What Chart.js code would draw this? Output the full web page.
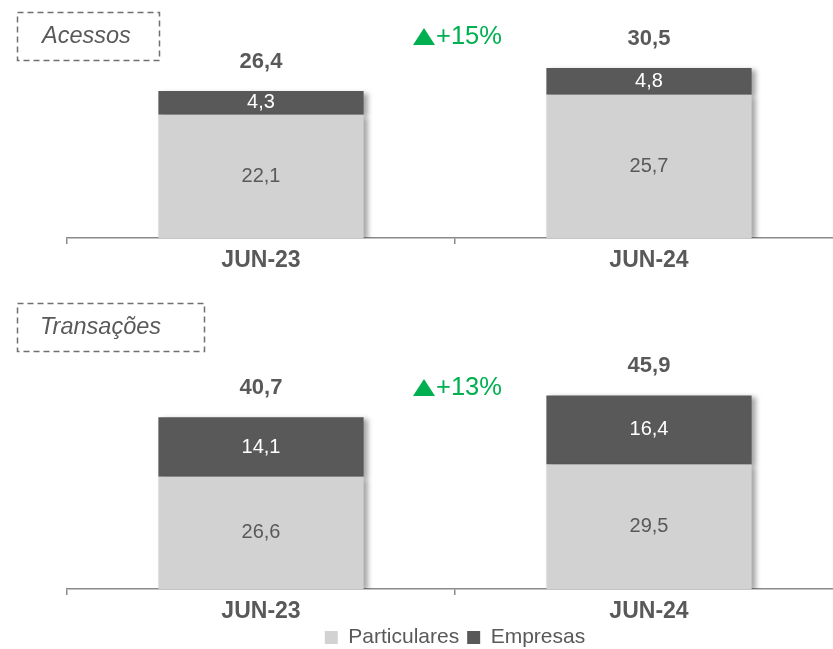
<!DOCTYPE html>
<html>
<head>
<meta charset="utf-8">
<script src="https://cdn.jsdelivr.net/npm/chart.js@4.4.0/dist/chart.umd.min.js"></script>
<style>
html, body { margin: 0; padding: 0; background: #fff; overflow: hidden; width: 833px; height: 649px; }
#wrap { position: relative; width: 833px; height: 649px; overflow: hidden; }
canvas { position: absolute; left: 0; }
#c1 { top: 0; }
#c2 { top: 290px; }
</style>
</head>
<body>
<div id="wrap">
<canvas id="c1" width="850" height="290"></canvas>
<canvas id="c2" width="850" height="380"></canvas>
</div>
<script>
// dados
var categorias = ['JUN-23', 'JUN-24'];
var series = ['Particulares', 'Empresas'];
var acessosParticulares = [22.1, 25.7];
var acessosEmpresas = [4.3, 4.8];
var acessosTotal = [26.4, 30.5];
var transacoesParticulares = [26.6, 29.5];
var transacoesEmpresas = [14.1, 16.4];
var transacoesTotal = [40.7, 45.9];
var variacao = ['+15%', '+13%'];
var titulos = ['Acessos', 'Transações'];

var corClaro = '#d2d2d2';
var corEscuro = '#595959';
var corTexto = '#595959';
var corEixo = '#8a8a8a';
var fonte = "'Liberation Sans', Arial, sans-serif";

function fmt(v) {
    return v.toFixed(1).replace('.', ',');
}

// sombra das barras
var sombra = {
    id: 'sombra',
    beforeDatasetsDraw: function(chart) {
        var ctx = chart.ctx;
        ctx.save();
        ctx.shadowColor = 'rgba(0,0,0,0.35)';
        ctx.shadowBlur = 5;
        ctx.shadowOffsetX = 4;
        ctx.shadowOffsetY = 2;
    },
    afterDatasetsDraw: function(chart) {
        chart.ctx.restore();
    }
};

// valores, totais, variacao e caixa do titulo
var rotulos = {
    id: 'rotulos',
    afterDatasetsDraw: function(chart, args, opts) {
        var ctx = chart.ctx;
        var area = chart.chartArea;
        ctx.save();
        ctx.textAlign = 'center';
        ctx.textBaseline = 'middle';

        chart.data.datasets.forEach(function(ds, i) {
            var meta = chart.getDatasetMeta(i);
            meta.data.forEach(function(bar, j) {
                ctx.font = '20px ' + fonte;
                ctx.fillStyle = i === 0 ? corTexto : '#ffffff';
                ctx.fillText(fmt(ds.data[j]), bar.x, (bar.y + bar.base) / 2);
            });
        });

        var topo = chart.getDatasetMeta(chart.data.datasets.length - 1);
        ctx.font = 'bold 22px ' + fonte;
        ctx.fillStyle = corTexto;
        topo.data.forEach(function(bar, j) {
            ctx.fillText(fmt(opts.totais[j]), bar.x, bar.y - 29);
        });

        // variacao entre os dois periodos (triangulo + texto)
        var xm = (topo.data[0].x + topo.data[1].x) / 2;
        var ym = area.bottom - 201;
        ctx.fillStyle = '#00b050';
        ctx.beginPath();
        ctx.moveTo(xm - 42, ym + 8);
        ctx.lineTo(xm - 20, ym + 8);
        ctx.lineTo(xm - 31, ym - 9);
        ctx.closePath();
        ctx.fill();
        ctx.textAlign = 'left';
        ctx.font = '25.5px ' + fonte;
        ctx.fillText(opts.variacao, xm - 19, ym);

        // titulo com caixa tracejada
        var c = opts.caixa;
        ctx.setLineDash([6, 4]);
        ctx.lineWidth = 1.5;
        ctx.strokeStyle = '#707070';
        ctx.strokeRect(c.x, c.y, c.w, c.h);
        ctx.setLineDash([]);
        ctx.font = 'italic 23.5px ' + fonte;
        ctx.fillStyle = corTexto;
        ctx.fillText(opts.titulo, c.tx, c.y + c.h / 2);
        ctx.restore();
    }
};

function criarGrafico(id, particulares, empresas, totais, o) {
    return new Chart(document.getElementById(id), {
        type: 'bar',
        data: {
            labels: categorias,
            datasets: [
                { label: series[0], data: particulares, backgroundColor: corClaro, barPercentage: 0.529, categoryPercentage: 1 },
                { label: series[1], data: empresas, backgroundColor: corEscuro, barPercentage: 0.529, categoryPercentage: 1 }
            ]
        },
        options: {
            responsive: false,
            animation: false,
            layout: { padding: { left: 67, right: 7, top: o.topo, bottom: o.baixo } },
            scales: {
                x: {
                    stacked: true,
                    grid: { display: true, drawOnChartArea: false, drawTicks: true, tickLength: 6, color: corEixo, lineWidth: 1.5, offset: true },
                    border: { display: true, color: corEixo, width: 1.5 },
                    ticks: { color: corTexto, padding: 3, font: { family: fonte, size: 23, weight: 'bold' } },
                    afterFit: function(s) { s.height = o.alturaEixo; }
                },
                y: { stacked: true, display: false, min: 0, max: o.max }
            },
            plugins: {
                legend: {
                    display: o.legenda,
                    position: 'bottom',
                    fullSize: false,
                    labels: { boxWidth: 13, boxHeight: 13, padding: 8, color: corTexto, font: { family: fonte, size: 21 } }
                },
                tooltip: { enabled: false },
                rotulos: { totais: totais, variacao: o.variacao, titulo: o.titulo, caixa: o.caixa }
            }
        },
        plugins: [sombra, rotulos]
    });
}

criarGrafico('c1', acessosParticulares, acessosEmpresas, acessosTotal, {
    topo: 43, baixo: 18, max: 35, alturaEixo: 34, legenda: false,
    variacao: variacao[0], titulo: titulos[0],
    caixa: { x: 17.5, y: 12.5, w: 142, h: 48, tx: 42 }
});

criarGrafico('c2', transacoesParticulares, transacoesEmpresas, transacoesTotal, {
    topo: 67, baixo: 12, max: 55, alturaEixo: 30, legenda: true,
    variacao: variacao[1], titulo: titulos[1],
    caixa: { x: 17.5, y: 13.5, w: 187, h: 48, tx: 40 }
});
</script>
</body>
</html>
